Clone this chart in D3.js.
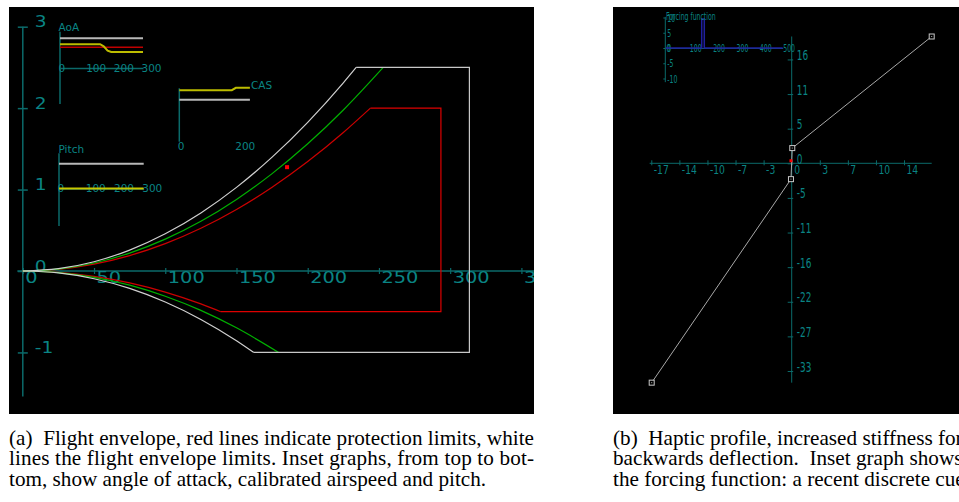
<!DOCTYPE html>
<html>
<head>
<meta charset="utf-8">
<script src="https://cdn.jsdelivr.net/npm/d3@7"></script>
<style>
  body { margin: 0; background: #fff; }
  svg { display: block; }
</style>
</head>
<body>
<div id="chart"></div>
<script>
// ---- (a) flight envelope: airspeed vs load factor
const envUpper = [[0,0],[25,0.029],[50,0.114],[75,0.257],[100,0.457],[125,0.713],[150,1.027],[175,1.398],[200,1.826],[225,2.311],[234,2.5]];
const envBox = [[234,2.5],[313.5,2.5],[313.5,-1],[162,-1]];
const envLower = [[0,0],[25,-0.024],[50,-0.095],[75,-0.214],[100,-0.381],[125,-0.595],[150,-0.857],[162,-1]];
const nomUpper = [[0,0],[25,0.024],[50,0.098],[75,0.22],[100,0.391],[125,0.61],[150,0.879],[175,1.196],[200,1.562],[225,1.977],[253,2.5]];
const nomLower = [[0,0],[25,-0.019],[50,-0.078],[75,-0.174],[100,-0.31],[125,-0.484],[150,-0.698],[179.6,-1]];
const protUpper = [[0,0],[25,0.021],[50,0.084],[75,0.189],[100,0.336],[125,0.525],[150,0.756],[175,1.029],[200,1.344],[225,1.701],[244,2]];
const protBox = [[244,2],[293.5,2],[293.5,-0.5],[139,-0.5]];
const protLower = [[0,0],[25,-0.016],[50,-0.065],[75,-0.146],[100,-0.259],[125,-0.404],[139,-0.5]];
const aircraftState = [185.5, 1.275];
const xTicksA = [0, 50, 100, 150, 200, 250, 300, 350];
const yTicksA = [-1, 0, 1, 2, 3];

// insets of (a)
const insetTicks = [0, 100, 200, 300];
const aoaLimit = [[0,16.5],[300,16.5]];
const aoaProt = [[0,11.5],[300,11.5]];
const aoaActual = [[0,13.2],[145,13.2],[158,12],[172,9.6],[185,8.9],[300,8.9]];
const casTicks = [0, 200];
const casLimit = [[0,77],[246,77]];
const casActual = [[0,93],[183,93],[197,97],[246,97]];
const pitchLimit = [[0,13.8],[300,13.8]];
const pitchActual = [[0,0],[300,0]];

// ---- (b) haptic profile: deflection vs force
const profile = [[-17.2,-34.6],[-0.09,-2.5],[0.07,2.4],[17.2,20]];
const stickPos = [-0.09, 0.4];
const xTicksB = [-17.25, -13.8, -10.35, -6.9, -3.45, 0, 3.45, 6.9, 10.35, 13.8];
const yTicksB = [-32.76, -27.3, -21.84, -16.38, -10.92, -5.46, 0, 5.46, 10.92, 16.38];
const forcing = [[0,0],[153,0],[153,9.5],[164,9.5],[164,0],[500,0]];
const forcingXTicks = [0, 100, 200, 300, 400, 500];
const forcingYTicks = [-10, -5, 0, 5, 10];

// captions
const captionA = [
  "(a)  Flight envelope, red lines indicate protection limits, white",
  "lines the flight envelope limits. Inset graphs, from top to bot-",
  "tom, show angle of attack, calibrated airspeed and pitch."
];
const captionB = [
  "(b)  Haptic profile, increased stiffness for",
  "backwards deflection.  Inset graph shows",
  "the forcing function: a recent discrete cue"
];

const W = 959, H = 502;
const AXIS = "#0b6a6a", TEXT = "#0a8484";
const FONT = "'DejaVu Sans', sans-serif";
const plain = d => String(Math.round(d)); // ascii hyphen for negatives

const svg = d3.select("#chart").append("svg")
  .attr("width", W).attr("height", H)
  .style("background", "#fff");

const defs = svg.append("defs");
defs.append("clipPath").attr("id", "clipA").append("rect")
  .attr("x", 9).attr("y", 7).attr("width", 525).attr("height", 407);
defs.append("clipPath").attr("id", "clipB").append("rect")
  .attr("x", 613).attr("y", 7).attr("width", 346).attr("height", 407);

// restyle a d3 axis: teal, left-aligned labels, squeezed/stretched glyphs
function styleAxis(g, o) {
  g.select(".domain").remove();
  g.selectAll(".tick line").attr("stroke", AXIS).attr("stroke-width", o.tw || 1);
  if (o.tickLine) g.selectAll(".tick line").each(function () { o.tickLine(d3.select(this)); });
  g.selectAll(".tick text")
    .attr("x", null).attr("y", null).attr("dy", o.dy || null)
    .attr("text-anchor", "start")
    .attr("fill", TEXT)
    .attr("font-size", o.fs)
    .attr("font-family", FONT)
    .attr("transform", `translate(${o.tx},${o.ty}) scale(${o.sx},1)`);
}

/* ================= panel (a) ================= */
const gA = svg.append("g").attr("clip-path", "url(#clipA)");
gA.append("rect").attr("x", 9).attr("y", 7).attr("width", 525).attr("height", 407).attr("fill", "#000");

const xA = d3.scaleLinear().domain([0, 350]).range([22.8, 521.4]);
const yA = d3.scaleLinear().domain([0, 3]).range([271, 26.7]);

// axes lines
gA.append("line").attr("x1", xA(-3.8)).attr("x2", 540).attr("y1", yA(0)).attr("y2", yA(0))
  .attr("stroke", AXIS).attr("stroke-width", 1.5);
gA.append("line").attr("x1", xA(0)).attr("x2", xA(0)).attr("y1", yA(3)).attr("y2", yA(-1.54))
  .attr("stroke", AXIS).attr("stroke-width", 1.5);

gA.append("g").attr("transform", `translate(0,${yA(0)})`)
  .call(d3.axisBottom(xA).tickValues(xTicksA).tickFormat(plain).tickSize(3).tickSizeOuter(0))
  .call(styleAxis, { fs: 15.5, sx: 1.25, tx: 2, ty: 11.5, tw: 1.2, tickLine: l => l.attr("y1", -3) });

gA.append("g").attr("transform", `translate(${xA(0)},0)`)
  .call(d3.axisLeft(yA).tickValues(yTicksA).tickSize(5).tickFormat(plain).tickSizeOuter(0))
  .call(styleAxis, { fs: 15.5, sx: 1.2, tx: 12, ty: 0, tw: 1.5, tickLine: l => l.attr("x1", 5) });

// envelope curves
const smoothA = d3.line().curve(d3.curveMonotoneX).x(d => xA(d[0])).y(d => yA(d[1]));
const straightA = d3.line().x(d => xA(d[0])).y(d => yA(d[1]));
const envLines = [
  { d: protUpper, c: "#cc0000", f: smoothA }, { d: protLower, c: "#cc0000", f: smoothA },
  { d: protBox, c: "#dd0000", f: straightA },
  { d: nomUpper, c: "#00b000", f: smoothA }, { d: nomLower, c: "#00b000", f: smoothA },
  { d: envUpper, c: "#d0d0d0", f: smoothA }, { d: envLower, c: "#d0d0d0", f: smoothA },
  { d: envBox, c: "#c8c8c8", f: straightA }
];
gA.selectAll("path.env").data(envLines).join("path")
  .attr("class", "env")
  .attr("d", e => e.f(e.d))
  .attr("fill", "none")
  .attr("stroke", e => e.c)
  .attr("stroke-width", 1.2);

gA.append("rect")
  .attr("x", xA(aircraftState[0]) - 2).attr("y", yA(aircraftState[1]) - 2)
  .attr("width", 4).attr("height", 4).attr("fill", "#ff0000");

// inset helper
function inset(o) {
  const xs = d3.scaleLinear().domain(o.xd).range(o.xr);
  const ys = d3.scaleLinear().domain(o.yd).range(o.yr);
  const g = gA.append("g");
  g.append("line").attr("x1", xs(0)).attr("x2", xs(0)).attr("y1", o.vTop).attr("y2", o.vBot)
    .attr("stroke", AXIS).attr("stroke-width", 1.5);
  const ax = g.append("g").attr("transform", `translate(0,${o.axisY})`)
    .call(d3.axisBottom(xs).tickValues(o.ticks).tickSize(0).tickSizeOuter(0));
  const dom = ax.select(".domain").attr("stroke", AXIS).attr("stroke-width", 1.5);
  ax.selectAll(".tick text")
    .attr("y", null).attr("dy", "0.36em").attr("x", -2)
    .attr("text-anchor", "start").attr("fill", TEXT)
    .attr("font-size", 10.5).attr("font-family", FONT);
  if (!o.domain) dom.remove();
  const ln = d3.line().x(d => xs(d[0])).y(d => ys(d[1]));
  o.series.forEach(s => {
    g.append("path").attr("d", ln(s.d)).attr("fill", "none")
      .attr("stroke", s.c).attr("stroke-width", s.w);
  });
  g.append("text").attr("x", o.lx).attr("y", o.ly).text(o.label)
    .attr("fill", TEXT).attr("font-size", 10.5).attr("font-family", FONT);
}

inset({
  xd: [0, 300], xr: [60, 143], yd: [0, 20], yr: [68, 32],
  vTop: 31.7, vBot: 104, axisY: 68, ticks: insetTicks, domain: true,
  series: [
    { d: aoaLimit, c: "#b8b8b8", w: 2 },
    { d: aoaProt, c: "#c00000", w: 1.5 },
    { d: aoaActual, c: "#bcbc00", w: 2 }
  ],
  label: "AoA", lx: 58.5, ly: 31
});

inset({
  xd: [0, 200], xr: [179.3, 236.7], yd: [0, 100], yr: [146, 86],
  vTop: 88.3, vBot: 141.7, axisY: 146, ticks: casTicks, domain: false,
  series: [
    { d: casLimit, c: "#b8b8b8", w: 2 },
    { d: casActual, c: "#bcbc00", w: 2 }
  ],
  label: "CAS", lx: 251, ly: 89
});

inset({
  xd: [0, 300], xr: [59, 143.7], yd: [0, 20], yr: [188.5, 152.5],
  vTop: 153.3, vBot: 226, axisY: 188.5, ticks: insetTicks, domain: true,
  series: [
    { d: pitchLimit, c: "#b8b8b8", w: 2 },
    { d: pitchActual, c: "#c8c800", w: 2 }
  ],
  label: "Pitch", lx: 58.5, ly: 152.5
});

/* ================= panel (b) ================= */
const gB = svg.append("g").attr("clip-path", "url(#clipB)");
gB.append("rect").attr("x", 613).attr("y", 7).attr("width", 346).attr("height", 407).attr("fill", "#000");

const xB = d3.scaleLinear().domain([0, 17.2]).range([791.7, 931.7]);
const yB = d3.scaleLinear().domain([0, -32.76]).range([163.3, 371]);

gB.append("line").attr("x1", xB(-17.45)).attr("x2", xB(17.2)).attr("y1", yB(0)).attr("y2", yB(0))
  .attr("stroke", AXIS).attr("stroke-width", 1);
gB.append("line").attr("x1", xB(0)).attr("x2", xB(0)).attr("y1", yB(20)).attr("y2", yB(-34.6))
  .attr("stroke", AXIS).attr("stroke-width", 1);

gB.append("g").attr("transform", `translate(0,${yB(0)})`)
  .call(d3.axisBottom(xB).tickValues(xTicksB).tickFormat(plain).tickSize(2).tickSizeOuter(0))
  .call(styleAxis, { fs: 11.5, sx: 0.8, tx: 2, ty: 10.5, tickLine: l => l.attr("y1", -3) });

gB.append("g").attr("transform", `translate(${xB(0)},0)`)
  .call(d3.axisLeft(yB).tickValues(yTicksB).tickFormat(plain).tickSize(4).tickSizeOuter(0))
  .call(styleAxis, { fs: 14, sx: 0.64, tx: 5, ty: 0, tickLine: l => l.attr("x1", 1.5) });

const lineB = d3.line().x(d => xB(d[0])).y(d => yB(d[1]));
gB.append("path").attr("d", lineB(profile)).attr("fill", "none")
  .attr("stroke", "#a8a8a8").attr("stroke-width", 1);
gB.selectAll("rect.node").data(profile).join("rect")
  .attr("class", "node")
  .attr("x", d => xB(d[0]) - 2.5).attr("y", d => yB(d[1]) - 2.5)
  .attr("width", 5).attr("height", 5)
  .attr("fill", "#000").attr("stroke", "#c8c8c8").attr("stroke-width", 1);
gB.selectAll("rect.dot").data(profile).join("rect")
  .attr("class", "dot")
  .attr("x", d => xB(d[0]) - 0.5).attr("y", d => yB(d[1]) - 0.5)
  .attr("width", 1).attr("height", 1).attr("fill", "#aaa");
gB.append("rect")
  .attr("x", xB(stickPos[0]) - 1.5).attr("y", yB(stickPos[1]) - 1.5)
  .attr("width", 3).attr("height", 3).attr("fill", "#ff0000");

// forcing function inset
const xF = d3.scaleLinear().domain([0, 500]).range([666, 782.7]);
const yF = d3.scaleLinear().domain([-10, 10]).range([78.5, 17.5]);
gB.append("line").attr("x1", xF(0) - 0.7).attr("x2", xF(0) - 0.7).attr("y1", yF(10.2)).attr("y2", yF(-11.2))
  .attr("stroke", AXIS).attr("stroke-width", 1);
gB.append("g").attr("transform", `translate(${xF(0) - 0.7},0)`)
  .call(d3.axisLeft(yF).tickValues(forcingYTicks).tickFormat(plain).tickSize(2).tickSizeOuter(0))
  .call(styleAxis, { fs: 10, sx: 0.62, tx: 2, ty: 0, dy: "0.36em" });
const fx = gB.append("g").attr("transform", `translate(0,${yF(0)})`)
  .call(d3.axisBottom(xF).tickValues(forcingXTicks).tickFormat(plain).tickSize(0).tickSizeOuter(0));
fx.select(".domain").attr("stroke", AXIS);
fx.selectAll(".tick text")
  .attr("x", null).attr("y", null).attr("dy", "0.36em")
  .attr("text-anchor", "start").attr("fill", TEXT)
  .attr("font-size", 10).attr("font-family", FONT)
  .attr("transform", "translate(0,0) scale(0.62,1)");
const lineF = d3.line().x(d => xF(d[0])).y(d => yF(d[1]));
gB.append("path").attr("d", lineF(forcing)).attr("fill", "none")
  .attr("stroke", "#2020a0").attr("stroke-width", 1.5);
gB.append("text").text("Forcing function")
  .attr("transform", `translate(${xF(0)},19.5) scale(0.62,1)`)
  .attr("fill", TEXT).attr("font-size", 10).attr("font-family", FONT);

/* ================= captions ================= */
const capBase = [444.5, 465, 485.5];
const capScale = 1.06;
function caption(lines, x0, justify) {
  svg.append("g").selectAll("text").data(lines).join("text")
    .attr("transform", (d, i) => `translate(${x0},${capBase[i]}) scale(${capScale},1)`)
    .attr("font-family", "'Liberation Serif', 'Times New Roman', serif")
    .attr("font-size", 20)
    .attr("fill", "#000")
    .style("white-space", "pre")
    .attr("textLength", (d, i) => (justify && i < lines.length - 1) ? 525 / capScale : null)
    .attr("lengthAdjust", "spacing")
    .text(d => d);
}
caption(captionA, 9, true);
caption(captionB, 613, false);
</script>
</body>
</html>
